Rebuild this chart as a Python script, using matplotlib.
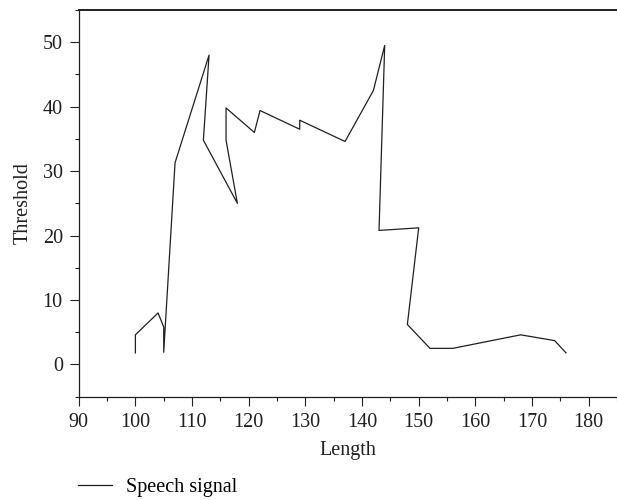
import matplotlib
matplotlib.use("Agg")
import matplotlib.pyplot as plt
from matplotlib.ticker import MultipleLocator

# Threshold against frame length for the speech signal
length = [100, 100, 104, 105, 105, 107, 113, 112, 118, 116, 116, 121, 122,
          129, 129, 137, 142, 144, 143, 150, 148, 152, 156, 168, 174, 176]
threshold = [1.8, 4.6, 8.0, 5.8, 1.9, 31.3, 48.0, 34.8, 25.0, 34.8, 39.8, 36.0, 39.4,
             36.5, 37.9, 34.6, 42.5, 49.5, 20.8, 21.2, 6.2, 2.5, 2.5, 4.6, 3.7, 1.8]

plt.rcParams["font.family"] = ["Liberation Serif", "DejaVu Serif"]
plt.rcParams["font.size"] = 14.5

fig = plt.figure(figsize=(6.17, 5), dpi=100)
ax = fig.add_axes([0.1276, 0.2066, 0.8724, 0.7734])

ink = "#231f20"
line, = ax.plot(length, threshold, color=ink, linewidth=0.9, label="Speech signal")

ax.set_xlim(90, 185)
ax.set_ylim(-5, 55)
ax.xaxis.set_major_locator(MultipleLocator(10))
ax.xaxis.set_minor_locator(MultipleLocator(5))
ax.yaxis.set_major_locator(MultipleLocator(10))
ax.yaxis.set_minor_locator(MultipleLocator(5))

ax.tick_params(which="major", direction="out", length=6.5, width=0.8, color=ink,
               labelcolor=ink, pad=5)
ax.tick_params(which="minor", direction="out", length=3, width=0.8, color=ink)

ax.spines["right"].set_visible(False)
for side in ["left", "bottom", "top"]:
    ax.spines[side].set_color(ink)
    ax.spines[side].set_linewidth(0.9)
ax.spines["top"].set_linewidth(1.4)

ax.set_xlabel("Length", color=ink, labelpad=7)
ax.set_ylabel("Threshold", color=ink, labelpad=7)

fig.legend(handles=[line], loc="center left", bbox_to_anchor=(0.126, 0.026),
           frameon=False, borderpad=0, borderaxespad=0, handlelength=1.7,
           handletextpad=0.7)

fig.savefig("out.png", dpi=100)
